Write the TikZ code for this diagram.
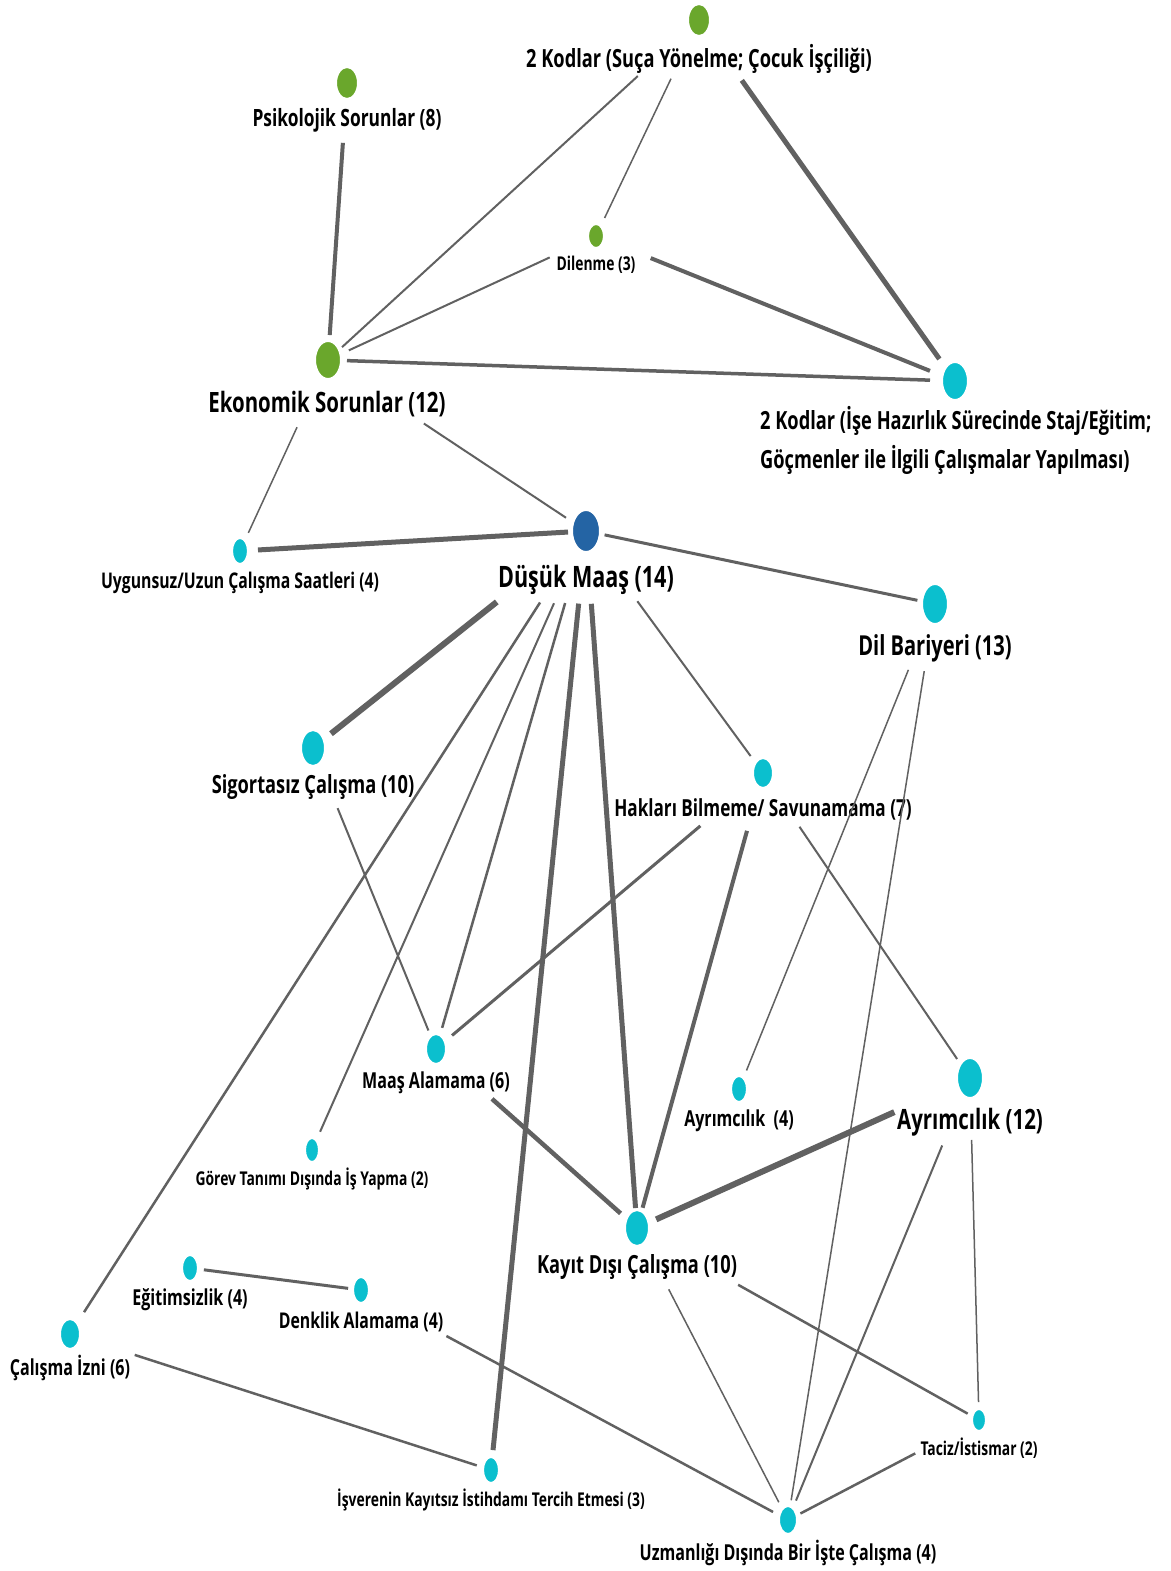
\documentclass[tikz,border=0pt]{standalone}
\usepackage{fontspec}
\setmainfont{Open Sans}[FakeStretch=0.73]
\usetikzlibrary{shapes.geometric}

\definecolor{cgreen}{HTML}{6AA72C}
\definecolor{ccyan}{HTML}{0BBFCE}
\definecolor{cblue}{HTML}{2464A4}
\definecolor{cedge}{HTML}{616161}

\tikzset{
  dot/.style 2 args={ellipse, inner sep=0pt, draw=white, line width=2pt,
    minimum width=#1pt, minimum height=#2pt},
  lab/.style={font=\bfseries\fontsize{#1}{#1}\selectfont, inner sep=0pt, text=black, yshift=-3pt},
  link/.style={draw=cedge, line width=#1pt},
}

\begin{document}
\begin{tikzpicture}[x=1pt,y=-1pt]
\useasboundingbox (0,0) rectangle (1170,1571);
\fill[white] (0,0) rectangle (1170,1571);

% node centres
\coordinate (K2a)   at (699,20);
\coordinate (Psik)  at (347,83);
\coordinate (Dil3)  at (596,236);
\coordinate (Eko)   at (328,360);
\coordinate (K2b)   at (955,381);
\coordinate (Uyg)   at (240,551);
\coordinate (Dus)   at (586,531);
\coordinate (DilB)  at (935,604);
\coordinate (Sig)   at (313,748);
\coordinate (Hak)   at (763,773);
\coordinate (Maas)  at (436,1049);
\coordinate (Ayr4)  at (739,1089);
\coordinate (Ayr12) at (970,1078);
\coordinate (Gor)   at (312,1150);
\coordinate (Kay)   at (637,1228);
\coordinate (Egit)  at (190,1268);
\coordinate (Denk)  at (361,1290);
\coordinate (Cal)   at (70,1334);
\coordinate (Isv)   at (491,1470);
\coordinate (Taciz) at (979,1420);
\coordinate (Uzm)   at (788,1520);

% labels
\node[lab=25]   (K2a-t)   at (699,56)   {2 Kodlar (Suça Yönelme; Çocuk İşçiliği)};
\node[lab=23.8] (Psik-t)  at (347,117)  {Psikolojik Sorunlar (8)};
\node[lab=19]   (Dil3-t)  at (596,262)  {Dilenme (3)};
\node[lab=28]   (Eko-t)   at (327,401)  {Ekonomik Sorunlar (12)};
\node[lab=25, align=left, anchor=west, font=\bfseries\fontsize{25}{39}\selectfont] (K2b-t) at (760,437)
  {2 Kodlar (İşe Hazırlık Sürecinde Staj/Eğitim;\\Göçmenler ile İlgili Çalışmalar Yapılması)};
\node[lab=21.6] (Uyg-t)   at (240,580)  {Uygunsuz/Uzun Çalışma Saatleri (4)};
\node[lab=29.5] (Dus-t)   at (586,577)  {Düşük Maaş (14)};
\node[lab=27.5] (DilB-t)  at (935,645)  {Dil Bariyeri (13)};
\node[lab=25]   (Sig-t)   at (313,784)  {Sigortasız Çalışma (10)};
\node[lab=23.5] (Hak-t)   at (763,806)  {Hakları Bilmeme/ Savunamama (7)};
\node[lab=22]   (Maas-t)  at (436,1080) {Maaş Alamama (6)};
\node[lab=22]   (Ayr4-t)  at (739,1118) {Ayrımcılık\ \ (4)};
\node[lab=28]   (Ayr12-t) at (970,1119) {Ayrımcılık (12)};
\node[lab=19]   (Gor-t)   at (312,1176) {Görev Tanımı Dışında İş Yapma (2)};
\node[lab=25]   (Kay-t)   at (637,1264) {Kayıt Dışı Çalışma (10)};
\node[lab=22]   (Egit-t)  at (190,1297) {Eğitimsizlik (4)};
\node[lab=21.7] (Denk-t)  at (361,1319) {Denklik Alamama (4)};
\node[lab=22]   (Cal-t)   at (70,1365)  {Çalışma İzni (6)};
\node[lab=19]   (Isv-t)   at (491,1497) {İşverenin Kayıtsız İstihdamı Tercih Etmesi (3)};
\node[lab=19]   (Taciz-t) at (979,1445) {Taciz/İstismar (2)};
\node[lab=22]   (Uzm-t)   at (788,1550) {Uzmanlığı Dışında Bir İşte Çalışma (4)};

% connectors (trimmed where they meet a label or a dot)
\draw[link=2,   shorten <=83pt,  shorten >=19pt] (K2a) -- (Eko);
\draw[link=1.5, shorten <=65pt,  shorten >=20pt] (K2a) -- (Dil3);
\draw[link=5,   shorten <=74pt,  shorten >=27pt] (K2a) -- (K2b);
\draw[link=4,   shorten <=60pt,  shorten >=25pt] (Psik) -- (Eko);
\draw[link=2,   shorten <=51pt,  shorten >=23pt] (Dil3) -- (Eko);
\draw[link=4,   shorten <=59pt,  shorten >=27pt] (Dil3) -- (K2b);
\draw[link=3.5, shorten <=19pt,  shorten >=25pt] (Eko) -- (K2b);
\draw[link=1.5, shorten <=74pt,  shorten >=20pt] (Eko) -- (Uyg);
\draw[link=2,   shorten <=115pt, shorten >=24pt] (Eko) -- (Dus);
\draw[link=5,   shorten <=18pt,  shorten >=18pt] (Uyg) -- (Dus);
\draw[link=3,   shorten <=19pt,  shorten >=18pt] (Dus) -- (DilB);
\draw[link=6,   shorten <=114pt, shorten >=23pt] (Dus) -- (Sig);
\draw[link=2.5, shorten <=85pt,  shorten >=26pt] (Dus) -- (Cal);
\draw[link=2,   shorten <=79pt,  shorten >=20pt] (Dus) -- (Gor);
\draw[link=2.5, shorten <=75pt,  shorten >=22pt] (Dus) -- (Maas);
\draw[link=5,   shorten <=73pt,  shorten >=20pt] (Dus) -- (Isv);
\draw[link=5,   shorten <=73pt,  shorten >=20pt] (Dus) -- (Kay);
\draw[link=2,   shorten <=87pt,  shorten >=21pt] (Dus) -- (Hak);
\draw[link=2,   shorten <=65pt,  shorten >=20pt] (Sig) -- (Maas);
\draw[link=3,   shorten <=82pt,  shorten >=21pt] (Hak) -- (Maas);
\draw[link=4,   shorten <=60pt,  shorten >=21pt] (Hak) -- (Kay);
\draw[link=2,   shorten <=65pt,  shorten >=23pt] (Hak) -- (Ayr12);
\draw[link=1.5, shorten <=71pt,  shorten >=20pt] (DilB) -- (Ayr4);
\draw[link=1.5, shorten <=68pt,  shorten >=20pt] (DilB) -- (Uzm);
\draw[link=4.5, shorten <=75pt,  shorten >=22pt] (Maas) -- (Kay);
\draw[link=6,   shorten <=83pt,  shorten >=21pt] (Ayr12) -- (Kay);
\draw[link=1.5, shorten <=62pt,  shorten >=18pt] (Ayr12) -- (Taciz);
\draw[link=2,   shorten <=73pt,  shorten >=21pt] (Ayr12) -- (Uzm);
\draw[link=1.5, shorten <=69pt,  shorten >=20pt] (Kay) -- (Uzm);
\draw[link=2.5, shorten <=116pt, shorten >=13pt] (Kay) -- (Taciz);
\draw[link=3,   shorten <=14pt,  shorten >=13pt] (Egit) -- (Denk);
\draw[link=2.5, shorten <=68pt,  shorten >=15pt] (Cal) -- (Isv);
\draw[link=2.5, shorten <=97pt,  shorten >=17pt] (Denk) -- (Uzm);
\draw[link=2.5, shorten <=72pt,  shorten >=14pt] (Taciz) -- (Uzm);

% dots
\node[dot={22}{32}, fill=cgreen] (K2a-d)   at (K2a)   {};
\node[dot={22}{32}, fill=cgreen] (Psik-d)  at (Psik)  {};
\node[dot={16}{24}, fill=cgreen] (Dil3-d)  at (Dil3)  {};
\node[dot={26}{38}, fill=cgreen] (Eko-d)   at (Eko)   {};
\node[dot={26}{38}, fill=ccyan]  (K2b-d)   at (K2b)   {};
\node[dot={16}{26}, fill=ccyan]  (Uyg-d)   at (Uyg)   {};
\node[dot={28}{42}, fill=cblue]  (Dus-d)   at (Dus)   {};
\node[dot={26}{40}, fill=ccyan]  (DilB-d)  at (DilB)  {};
\node[dot={24}{36}, fill=ccyan]  (Sig-d)   at (Sig)   {};
\node[dot={20}{30}, fill=ccyan]  (Hak-d)   at (Hak)   {};
\node[dot={20}{30}, fill=ccyan]  (Maas-d)  at (Maas)  {};
\node[dot={16}{26}, fill=ccyan]  (Ayr4-d)  at (Ayr4)  {};
\node[dot={26}{40}, fill=ccyan]  (Ayr12-d) at (Ayr12) {};
\node[dot={14}{24}, fill=ccyan]  (Gor-d)   at (Gor)   {};
\node[dot={24}{36}, fill=ccyan]  (Kay-d)   at (Kay)   {};
\node[dot={16}{26}, fill=ccyan]  (Egit-d)  at (Egit)  {};
\node[dot={16}{26}, fill=ccyan]  (Denk-d)  at (Denk)  {};
\node[dot={20}{30}, fill=ccyan]  (Cal-d)   at (Cal)   {};
\node[dot={16}{26}, fill=ccyan]  (Isv-d)   at (Isv)   {};
\node[dot={14}{22}, fill=ccyan]  (Taciz-d) at (Taciz) {};
\node[dot={18}{28}, fill=ccyan]  (Uzm-d)   at (Uzm)   {};
\end{tikzpicture}
\end{document}
